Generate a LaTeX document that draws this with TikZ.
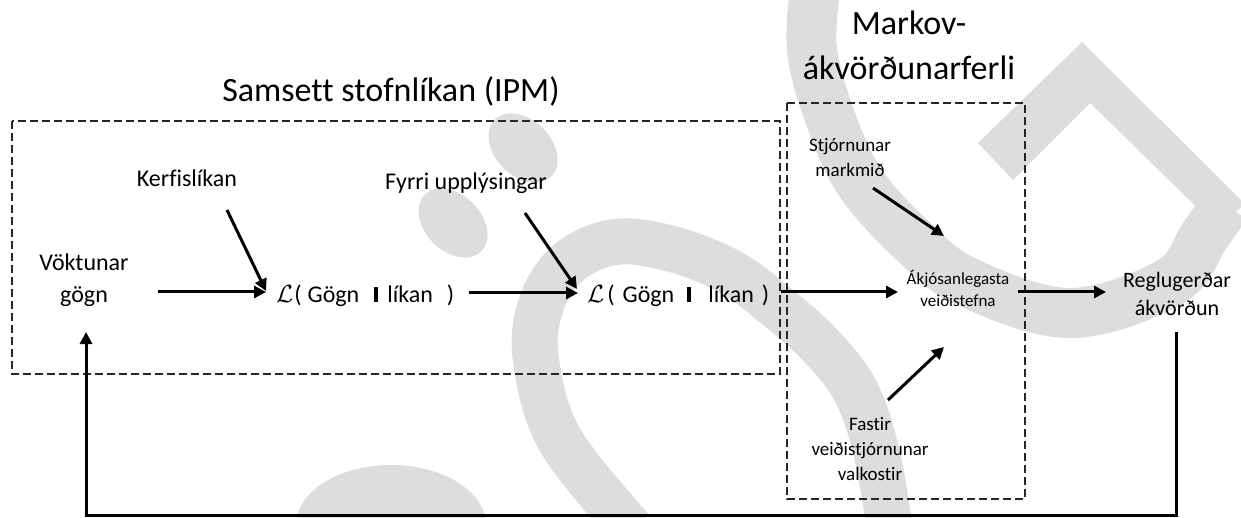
\documentclass[tikz,border=0pt]{standalone}
\usepackage{fontspec}
\setmainfont{Carlito}[Ligatures=NoCommon]
\usetikzlibrary{arrows.meta}
\definecolor{wmgrey}{RGB}{221,221,221}
\newcommand{\Lterm}[5]{{\fontsize{28}{28}\selectfont$\mathcal{L}$}\hspace{#1}(\hspace{#2}Gögn\hspace{#3}\rule{4pt}{15pt}\hspace{#4}líkan\hspace{#5})}
\tikzset{
  lbl/.style={font=\fontsize{24}{32}\selectfont, inner sep=0pt, align=center},
  sml/.style={font=\fontsize{19}{25}\selectfont, inner sep=0pt, align=center},
  tiny/.style={font=\fontsize{17}{22}\selectfont, inner sep=0pt, align=center},
  ttl/.style={font=\fontsize{34}{45}\selectfont, inner sep=0pt, align=center},
  arr/.style={line width=3pt, -{Triangle[length=12pt,width=12pt]}},
  dbox/.style={line width=2.2pt, dash pattern=on 8pt off 4pt, color=black!85},
  wm/.style={wmgrey}
}
\begin{document}
\begin{tikzpicture}[x=1pt,y=-1pt]
\useasboundingbox (0,0) rectangle (1241,518);
% watermark
\begin{scope}
\clip (0,0) rectangle (1241,518);
\fill[wm] plot[domain=0:360, samples=72, smooth cycle, variable=\t]
  ({523 + 0.7071*40*cos(\t) - 0.7071*28*sin(\t)}, {148 + 0.7071*40*cos(\t) + 0.7071*28*sin(\t)});
\fill[wm] plot[domain=0:360, samples=72, smooth cycle, variable=\t]
  ({453 + 0.7071*40*cos(\t) - 0.7071*28*sin(\t)}, {223 + 0.7071*40*cos(\t) + 0.7071*28*sin(\t)});
\draw[wm, line width=46pt] plot[smooth, tension=0.6] coordinates {(632,530) (560,440) (536,360) (541,305) (568,263) (615,242) (672,249) (730,272) (775,305) (820,345) (855,390) (876,450) (890,530)};
\draw[wm, line width=50pt] plot[smooth, tension=0.6] coordinates {(815,-10) (812,50) (830,117) (860,182) (912,240) (967,282) (1070,313) (1170,282) (1205,235) (1226,205)};
\fill[wm] (978,143) -- (1082,42) -- (1245,204) -- (1217,227) -- (1090,103) -- (1013,180) -- cycle;
\fill[wm] (391,525) ellipse [x radius=95, y radius=60];
\end{scope}
% boxes
\draw[dbox] (12,121) rectangle (780,374);
\draw[dbox] (787,103) rectangle (1025,499);
% titles
\node[ttl, anchor=base] (ipmtitle) at (391,102) {Samsett stofnlíkan (IPM)};
\node[ttl, anchor=base] (mdptitle) at (909,80) {Markov-\\ákvörðunarferli};
% nodes
\node[lbl, anchor=base] (vok) at (84,302) {Vöktunar\\gögn};
\node[lbl, anchor=base] (kerf) at (187,187) {Kerfislíkan};
\node[lbl, anchor=base] (fyrri) at (466,190) {Fyrri upplýsingar};
\node[lbl, anchor=base west] (L1) at (276,302) {\Lterm{1pt}{6pt}{15pt}{9pt}{14pt}};
\node[lbl, anchor=base west] (L2) at (587,302) {\Lterm{3pt}{8pt}{13pt}{17pt}{8pt}};
\node[sml, anchor=base] (stj) at (850,177) {Stjórnunar\\markmið};
\node[tiny, anchor=base] (akj) at (958,307) {Ákjósanlegasta\\veiðistefna};
\node[sml, anchor=base] (fast) at (870,480) {Fastir\\veiðistjórnunar\\valkostir};
\node[font=\fontsize{22}{28}\selectfont, inner sep=0pt, align=center, anchor=base] (reg) at (1177,316) {Reglugerðar\\ákvörðun};
% connector end points
\coordinate (vokout) at (158,292);
\coordinate (L1in) at (266,292);
\coordinate (kerfout) at (227,210);
\coordinate (L1top) at (266,291);
\coordinate (L1out) at (469,293);
\coordinate (L2in) at (578,293);
\coordinate (fyrout) at (525,213);
\coordinate (L2top) at (577,289);
\coordinate (L2out) at (781,292);
\coordinate (akjin) at (898,292);
\coordinate (stjout) at (873,188);
\coordinate (akjtop) at (944,236);
\coordinate (fastout) at (888,400);
\coordinate (akjbot) at (944,347);
\coordinate (akjout) at (1018,292);
\coordinate (regin) at (1106,292);
\coordinate (regout) at (1176,332);
\coordinate (fbr) at (1176,515);
\coordinate (fbl) at (86,515);
\coordinate (vokin) at (86,332);
% connectors
\draw[arr] (vokout) -- (L1in);
\draw[arr] (kerfout) -- (L1top);
\draw[arr] (L1out) -- (L2in);
\draw[arr] (fyrout) -- (L2top);
\draw[arr] (L2out) -- (akjin);
\draw[arr] (stjout) -- (akjtop);
\draw[arr] (fastout) -- (akjbot);
\draw[arr] (akjout) -- (regin);
\draw[arr, line join=miter] (regout) -- (fbr) -- (fbl) -- (vokin);
\end{tikzpicture}
\end{document}
